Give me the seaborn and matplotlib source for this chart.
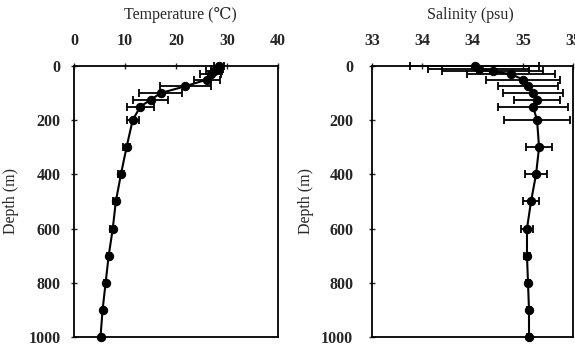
"""
plot.py

Temperature and salinity depth profiles with standard deviation bars.
"""

import matplotlib
matplotlib.use("Agg")
import matplotlib.pyplot as plt
import seaborn as sns
import numpy as np
import pandas as pd

# depth levels (m)
depth = [0, 10, 20, 30, 50, 75, 100, 125, 150, 200, 300, 400, 500, 600, 700, 800, 900, 1000]

# temperature mean and std (deg C)
temp = [28.4, 28.0, 27.4, 26.8, 26.1, 21.8, 17.0, 15.0, 13.0, 11.5, 10.3, 9.2, 8.2, 7.6, 6.8, 6.2, 5.6, 5.2]
temp_sd = [1.0, 1.2, 1.6, 2.0, 2.6, 5.0, 4.2, 3.4, 2.7, 1.2, 0.6, 0.6, 0.6, 0.5, 0.4, 0.3, 0.1, 0.1]

# salinity mean and std (psu)
sal = [34.02, 34.06, 34.20, 34.38, 34.50, 34.55, 34.60, 34.64, 34.60, 34.64, 34.66, 34.63, 34.58, 34.54, 34.54, 34.55, 34.56, 34.56]
sal_sd = [0.64, 0.50, 0.50, 0.44, 0.37, 0.30, 0.30, 0.23, 0.35, 0.33, 0.13, 0.11, 0.08, 0.06, 0.03, 0.02, 0.02, 0.02]

temp_ticks = [0, 10, 20, 30, 40]
sal_ticks = [33.0, 33.5, 34.0, 34.5, 35.0]
sal_ticklabels = ["33", "34", "34", "35", "35"]
depth_ticks = [0, 200, 400, 600, 800, 1000]

df = pd.DataFrame({"depth": depth, "temp": temp, "temp_sd": temp_sd,
                   "sal": sal, "sal_sd": sal_sd})

sns.set_style("ticks")
plt.rcParams["font.family"] = ["Liberation Serif", "DejaVu Serif"]

fig = plt.figure(figsize=(5.75, 3.49), dpi=100)
ax1 = fig.add_axes([0.1287, 0.0344, 0.3548, 0.7766])
ax2 = fig.add_axes([0.647, 0.0344, 0.350, 0.7766])


def profile(ax, col, sd_col, xlim, ticks, ticklabels, title,
            ypad, ylab_x, title_x):
    ax.errorbar(df[col], df["depth"], xerr=df[sd_col], fmt="none",
                ecolor="black", elinewidth=1.3, capsize=3, capthick=1.3,
                clip_on=False, zorder=2)
    sns.lineplot(data=df, x=col, y="depth", orient="y", sort=False, ax=ax,
                 color="black", linewidth=1.5, marker="o", markersize=6,
                 markeredgecolor="black", clip_on=False, zorder=3)
    ax.set_xlim(*xlim)
    ax.set_ylim(1000, 0)
    ax.set_xticks(ticks)
    ax.set_xticklabels(ticklabels)
    ax.set_yticks(depth_ticks)
    ax.xaxis.tick_top()
    ax.xaxis.set_label_position("top")
    ax.set_xlabel(title, fontsize=11.5)
    ax.xaxis.set_label_coords(title_x, 1.173)
    ax.set_ylabel("Depth (m)", fontsize=11.5)
    ax.yaxis.set_label_coords(ylab_x, 0.5)
    ax.tick_params(axis="both", direction="inout", length=5, width=1,
                   labelsize=11.5)
    ax.tick_params(axis="x", pad=10)
    ax.tick_params(axis="y", pad=ypad)
    for lab in ax.get_xticklabels() + ax.get_yticklabels():
        lab.set_fontweight("bold")
    for s in ax.spines.values():
        s.set_visible(True)
        s.set_linewidth(1.3)
        s.set_color("black")


profile(ax1, "temp", "temp_sd", (0, 40), temp_ticks,
        [str(t) for t in temp_ticks], "Temperature (\u2103)",
        ypad=7, ylab_x=-0.27, title_x=0.52)
profile(ax2, "sal", "sal_sd", (33, 35), sal_ticks, sal_ticklabels,
        "Salinity (psu)", ypad=11, ylab_x=-0.289, title_x=0.49)

fig.savefig("out.png", dpi=100)
plt.close()
